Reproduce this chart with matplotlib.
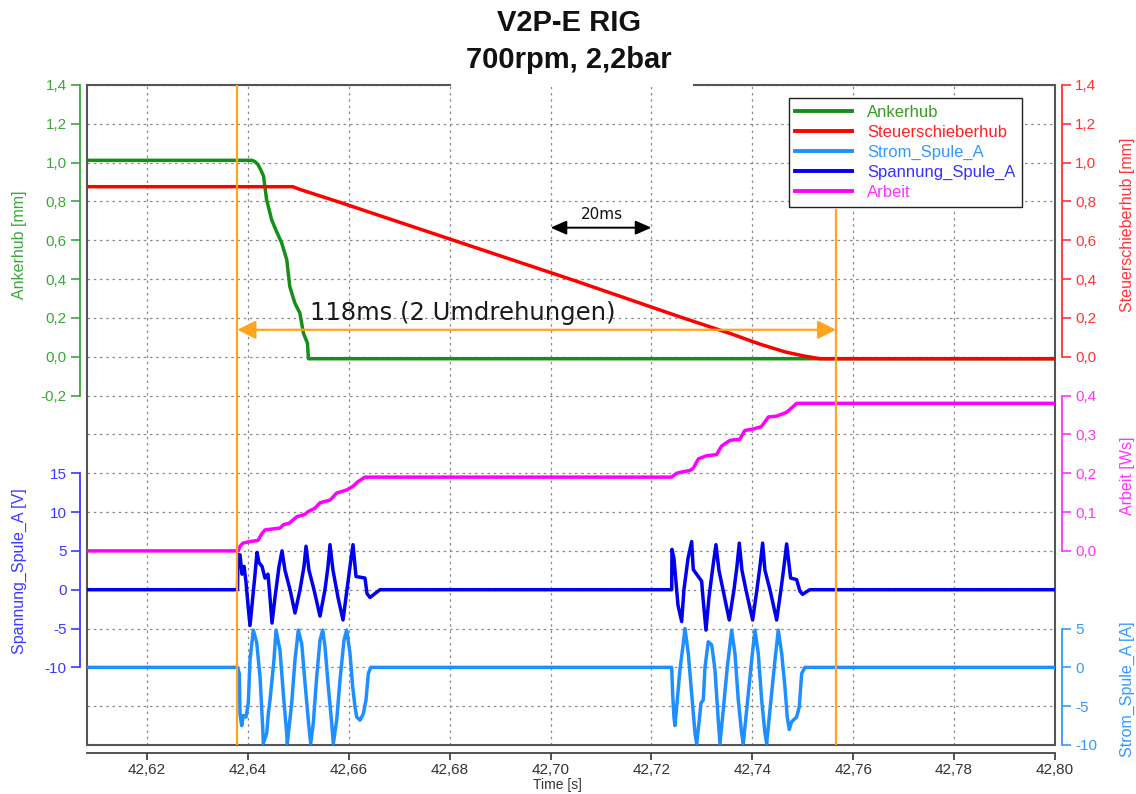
import matplotlib
matplotlib.use("Agg")
import matplotlib.pyplot as plt
from matplotlib.ticker import FuncFormatter
from matplotlib.patches import Rectangle
from matplotlib.lines import Line2D

plt.rcParams['font.family'] = ['Liberation Sans', 'DejaVu Sans']

# ---------------- data ----------------
x_ticks = [42.62, 42.64, 42.66, 42.68, 42.70, 42.72, 42.74, 42.76, 42.78, 42.80]
t_start, t_end = 42.6081, 42.80

# Ankerhub [mm]
anker_t = [42.6081, 42.6408, 42.6414, 42.6420, 42.6426, 42.6431, 42.6437, 42.6447,
           42.6456, 42.6467, 42.6477, 42.6483, 42.6493, 42.6503, 42.6510, 42.6518,
           42.6520, 42.8000]
anker_mm = [1.012, 1.012, 1.005, 0.99, 0.96, 0.93, 0.81, 0.706,
            0.65, 0.586, 0.50, 0.362, 0.277, 0.225, 0.122, 0.07,
            -0.01, -0.01]

# Steuerschieberhub [mm]
steuer_t = [42.6081, 42.6489, 42.6503, 42.6583, 42.6840, 42.7048, 42.7257,
            42.7356, 42.7415, 42.7465, 42.7504, 42.7534, 42.8000]
steuer_mm = [0.876, 0.876, 0.862, 0.795, 0.572, 0.392, 0.205,
             0.12, 0.065, 0.025, 0.003, -0.01, -0.01]

# Arbeit [Ws]
arbeit_t = [42.6081, 42.6381, 42.6384, 42.6390, 42.6404, 42.6420, 42.6428, 42.6434,
            42.6464, 42.6470, 42.6483, 42.6497, 42.6513, 42.6519, 42.6533, 42.6543,
            42.6563, 42.6576, 42.6596, 42.6608, 42.6618, 42.6632,
            42.7240, 42.7250, 42.7263, 42.7276, 42.7283, 42.7293, 42.7309, 42.7329,
            42.7339, 42.7356, 42.7375, 42.7385, 42.7402, 42.7418, 42.7432, 42.7448,
            42.7468, 42.7488, 42.8000]
arbeit_ws = [0.0, 0.0, 0.011, 0.02, 0.024, 0.027, 0.045, 0.054,
             0.059, 0.067, 0.072, 0.088, 0.094, 0.101, 0.11, 0.124,
             0.131, 0.149, 0.157, 0.166, 0.178, 0.19,
             0.19, 0.20, 0.204, 0.207, 0.213, 0.237, 0.245, 0.248,
             0.27, 0.285, 0.287, 0.31, 0.314, 0.32, 0.345, 0.347,
             0.357, 0.38, 0.38]

# Spannung_Spule_A [V]
spannung_t = [42.6081,
              42.63794, 42.63804, 42.63843, 42.63883, 42.63923, 42.63962, 42.64002, 42.64042,
              42.64081, 42.64141, 42.64180, 42.64220, 42.64280, 42.64339, 42.64398, 42.64438,
              42.64478, 42.64537, 42.64617, 42.64676, 42.64735, 42.64835, 42.64934, 42.65033,
              42.65112, 42.65152, 42.65211, 42.65310, 42.65429, 42.65528, 42.65588, 42.65627,
              42.65687, 42.65786, 42.65885, 42.65964, 42.66024, 42.66083, 42.66143, 42.66321,
              42.66361, 42.66420, 42.66519, 42.66619,
              42.72401, 42.72407, 42.72446, 42.72486, 42.72526, 42.72599, 42.72644, 42.72724,
              42.72797, 42.72829, 42.72928, 42.72995, 42.73021, 42.73081, 42.73140, 42.73219,
              42.73279, 42.73338, 42.73418, 42.73542, 42.73636, 42.73695, 42.73741, 42.73794,
              42.73873, 42.74006, 42.74091, 42.74151, 42.74204, 42.74250, 42.74349, 42.74482,
              42.74567, 42.74627, 42.74680, 42.74759, 42.74878, 42.74944, 42.74997, 42.75063,
              42.75142, 42.8000]
spannung_v = [0.0,
              0.0, 4.5, 4.5, 2.0, 3.0, 1.0, -2.0, -4.6,
              -2.0, 2.0, 4.8, 3.5, 3.0, 1.5, 2.0, -1.0,
              -4.3, -1.0, 3.0, 5.0, 2.5, 0.0, -3.0, 0.0,
              3.0, 5.6, 2.5, 0.0, -3.4, 0.0, 3.0, 5.8,
              2.5, -1.0, -3.9, 0.0, 3.0, 5.8, 1.7, 1.5,
              -0.5, -1.0, -0.5, 0.0,
              0.0, 5.2, 4.0, 1.0, -2.0, -4.1, 0.0, 4.0,
              6.2, 2.6, 1.7, 1.1, -1.0, -5.2, -1.0, 3.0,
              5.8, 2.5, 0.0, -3.9, 0.0, 3.0, 6.0, 2.5,
              0.0, -3.9, 0.0, 3.0, 6.0, 2.5, 0.0, -3.9,
              0.0, 3.0, 5.9, 1.5, 1.3, -0.2, -0.6, -0.3,
              0.0, 0.0]

# Strom_Spule_A [A]
strom_t = [42.6081,
           42.63794, 42.63830, 42.63843, 42.63877, 42.63909, 42.63962, 42.64008, 42.64042,
           42.64107, 42.64174, 42.64240, 42.64293, 42.64305, 42.64373, 42.64404, 42.64438,
           42.64517, 42.64557, 42.64636, 42.64702, 42.64769, 42.64781, 42.64868, 42.64934,
           42.64999, 42.65067, 42.65132, 42.65197, 42.65245, 42.65296, 42.65364, 42.65429,
           42.65483, 42.65528, 42.65594, 42.65661, 42.65693, 42.65760, 42.65826, 42.65905,
           42.65958, 42.66024, 42.66077, 42.66123, 42.66157, 42.66222, 42.66287, 42.66341,
           42.66387, 42.66434,
           42.72401, 42.72420, 42.72446, 42.72466, 42.72500, 42.72565, 42.72631, 42.72664,
           42.72730, 42.72797, 42.72863, 42.72896, 42.72948, 42.72981, 42.73027, 42.73061,
           42.73126, 42.73194, 42.73259, 42.73324, 42.73358, 42.73423, 42.73503, 42.73590,
           42.73655, 42.73721, 42.73788, 42.73820, 42.73887, 42.73986, 42.74052, 42.74117,
           42.74185, 42.74250, 42.74284, 42.74363, 42.74448, 42.74514, 42.74581, 42.74646,
           42.74692, 42.74732, 42.74779, 42.74878, 42.74930, 42.74978, 42.75043,
           42.8000]
strom_a = [0.0,
           0.0, -0.8, -6.0, -7.5, -6.2, -6.4, -4.6, 1.0,
           4.8, 3.2, -1.2, -7.7, -9.8, -8.5, -6.0, -4.2,
           1.0, 4.8, 2.2, -3.4, -8.5, -9.8, -4.6, 1.0,
           4.8, 3.0, -2.0, -6.8, -9.8, -7.2, -1.2, 3.5,
           4.8, 2.7, -2.5, -7.2, -9.8, -6.8, -1.6, 3.5,
           4.8, 1.8, -2.5, -5.1, -6.4, -6.8, -6.0, -4.2,
           -0.8, 0.0,
           0.0, -3.4, -6.4, -7.5, -5.1, -0.3, 3.1, 5.0,
           1.8, -3.4, -8.5, -9.8, -6.8, -4.6, -4.2, 0.0,
           3.3, 2.9, -0.3, -6.8, -9.8, -5.5, 0.0, 4.8,
           1.8, -4.2, -8.5, -9.8, -5.5, 0.9, 4.8, 1.8,
           -4.2, -8.5, -9.8, -4.6, 0.9, 4.8, 1.8, -2.5,
           -6.4, -8.0, -7.0, -6.4, -5.1, -0.8, 0.0,
           0.0]

# annotations
marker_t1, marker_t2 = 42.6379, 42.7566
span_text = "118ms (2 Umdrehungen)"
span_level = 0.139
scale_t1, scale_t2 = 42.70, 42.72
scale_text = "20ms"
scale_level = 0.665

# ---------------- styling ----------------
C_ANK, C_ANK_AX = '#168f16', '#3aa83a'
C_STE, C_STE_AX = '#ff0000', '#ff3333'
C_STR, C_STR_AX = '#1f8fff', '#3399ff'
C_SPA, C_SPA_AX = '#0000ee', '#3a3aff'
C_ARB, C_ARB_AX = '#ff00ff', '#ff33ff'
ORANGE = '#ffa41c'
LW = 2.5

W, H = 1136, 794
fig = plt.figure(figsize=(W / 100, H / 100), dpi=100)
L, R, T, B = 87, 1055, 85, 745
ax = fig.add_axes([L / W, 1 - B / H, (R - L) / W, (B - T) / H])
ax.set_xlim(t_start, t_end)
ax.set_ylim(-2.0, 1.4)
ax.set_yticks([-2.0 + 0.2 * i for i in range(18)])
ax.tick_params(axis='y', length=0, labelleft=False, labelright=False)
ax.set_xticks(x_ticks)
ax.xaxis.set_major_formatter(FuncFormatter(lambda v, p: f"{v:.2f}".replace('.', ',')))
ax.tick_params(axis='x', direction='out', length=5, width=1.3, colors='#444',
               labelcolor='#333', labelsize=11, pad=2)
ax.grid(True, color='#8a8a8a', linestyle=(0, (2, 3)), linewidth=0.9)
for s in ('left', 'right', 'top'):
    ax.spines[s].set_visible(False)
ax.spines['bottom'].set_position(('outward', 6))
ax.spines['bottom'].set_color('#444')
ax.spines['bottom'].set_linewidth(1.3)
ax.add_patch(Rectangle((0, 0), 1, 1, transform=ax.transAxes, fill=False,
                       edgecolor='#555', linewidth=1.5, clip_on=False, zorder=5))
ax.set_xlabel('Time [s]', fontsize=10, color='#333')
ax.xaxis.set_label_coords(0.4855, -0.0495)


def make_axis(side, ylim, ticks, color, label, fmt, label_y):
    a = ax.twinx()
    a.set_ylim(*ylim)
    for s in a.spines.values():
        s.set_visible(False)
    sp = a.spines[side]
    sp.set_visible(True)
    sp.set_position(('outward', 5))
    sp.set_bounds(ticks[0], ticks[-1])
    sp.set_color(color)
    sp.set_linewidth(1.3)
    if side == 'left':
        a.yaxis.tick_left()
        a.yaxis.set_label_position('left')
    else:
        a.yaxis.tick_right()
        a.yaxis.set_label_position('right')
    a.set_yticks(ticks)
    a.yaxis.set_major_formatter(FuncFormatter(fmt))
    a.tick_params(axis='y', colors=color, direction='out', length=6.5, width=1.2,
                  labelsize=11, pad=3)
    a.set_ylabel(label, color=color, fontsize=11.5)
    a.yaxis.set_label_coords(-0.062 if side == 'left' else 1.067, label_y)
    a.set_xlim(t_start, t_end)
    return a


f1 = lambda v, p: f"{v:.1f}".replace('.', ',')
f0 = lambda v, p: f"{v:.0f}"

axA = make_axis('left', (-2.0, 1.4), [-0.2, 0.0, 0.2, 0.4, 0.6, 0.8, 1.0, 1.2, 1.4],
                C_ANK_AX, 'Ankerhub [mm]', f1, 0.758)
axS = make_axis('right', (-2.0, 1.4), [0.0, 0.2, 0.4, 0.6, 0.8, 1.0, 1.2, 1.4],
                C_STE_AX, 'Steuerschieberhub [mm]', f1, 0.788)
axW = make_axis('right', (-0.5, 1.2), [0.0, 0.1, 0.2, 0.3, 0.4],
                C_ARB_AX, 'Arbeit [Ws]', f1, 0.408)
axI = make_axis('right', (-10, 75), [-10, -5, 0, 5],
                C_STR_AX, 'Strom_Spule_A [A]', f0, 0.085)
axV = make_axis('left', (-20, 65), [-10, -5, 0, 5, 10, 15],
                C_SPA_AX, 'Spannung_Spule_A [V]', f0, 0.264)

axA.plot(anker_t, anker_mm, color=C_ANK, lw=LW)
axS.plot(steuer_t, steuer_mm, color=C_STE, lw=LW)
axW.plot(arbeit_t, arbeit_ws, color=C_ARB, lw=LW)
axI.plot(strom_t, strom_a, color=C_STR, lw=LW)
axV.plot(spannung_t, spannung_v, color=C_SPA, lw=LW)

# overlay axis for markers / annotations / legend
top = ax.twinx()
top.set_ylim(0, 1)
top.set_xlim(t_start, t_end)
for s in top.spines.values():
    s.set_visible(False)
top.set_yticks([])

top.axvline(marker_t1, ymin=0, ymax=1, color=ORANGE, lw=1.6)
top.axvline(marker_t2, ymin=0, ymax=0.81, color=ORANGE, lw=1.6)
top.annotate('', xy=(marker_t2, span_level), xytext=(marker_t1, span_level),
             xycoords=axA.transData, textcoords=axA.transData,
             arrowprops=dict(arrowstyle='<|-|>,head_length=0.8,head_width=0.4',
                             color=ORANGE, lw=1.6, mutation_scale=14,
                             shrinkA=0, shrinkB=0))
top.text(42.6523, 0.227, span_text, transform=axA.transData, fontsize=17.5,
         family='DejaVu Sans', ha='left', va='center', color='#1a1a1a')
top.annotate('', xy=(scale_t2, scale_level), xytext=(scale_t1, scale_level),
             xycoords=axA.transData, textcoords=axA.transData,
             arrowprops=dict(arrowstyle='<|-|>,head_length=0.8,head_width=0.35',
                             color='black', lw=1.4, mutation_scale=12,
                             shrinkA=0, shrinkB=0))
top.text((scale_t1 + scale_t2) / 2 + 0.0002, 0.735, scale_text, transform=axA.transData,
         fontsize=11, family='DejaVu Sans', ha='center', va='center', color='#111')

names = ['Ankerhub', 'Steuerschieberhub', 'Strom_Spule_A', 'Spannung_Spule_A', 'Arbeit']
line_cols = [C_ANK, C_STE, C_STR, C_SPA, C_ARB]
text_cols = ['#3c9a28', '#ff2020', '#3399ff', '#3333ff', '#ff33ff']
handles = [Line2D([], [], color=c, lw=2.8) for c in line_cols]
leg = top.legend(handles, names, loc='upper right', bbox_to_anchor=(0.966, 0.980),
                 prop={'family': 'Liberation Sans', 'size': 12}, frameon=True,
                 fancybox=False, edgecolor='#222', framealpha=1, handlelength=3.4,
                 labelspacing=0.3, borderpad=0.4, handletextpad=0.9,
                 borderaxespad=0)
leg.get_frame().set_linewidth(1.0)
for txt, c in zip(leg.get_texts(), text_cols):
    txt.set_color(c)

# title with white box over the frame
fig.add_artist(Rectangle((451 / W, 1 - 86.5 / H), (693 - 451) / W, 86.5 / H,
                         transform=fig.transFigure, facecolor='white',
                         edgecolor='none', zorder=3))
title_fam = ['Liberation Sans Narrow', 'Liberation Sans', 'DejaVu Sans']
fig.text(569 / W, 1 - 23 / H, 'V2P-E RIG', ha='center', va='center', fontsize=21,
         fontweight='bold', family=title_fam, color='#111', zorder=4)
fig.text(569 / W, 1 - 60 / H, '700rpm, 2,2bar', ha='center', va='center', fontsize=21,
         fontweight='bold', family=title_fam, color='#111', zorder=4)

fig.savefig('out.png', dpi=100)
